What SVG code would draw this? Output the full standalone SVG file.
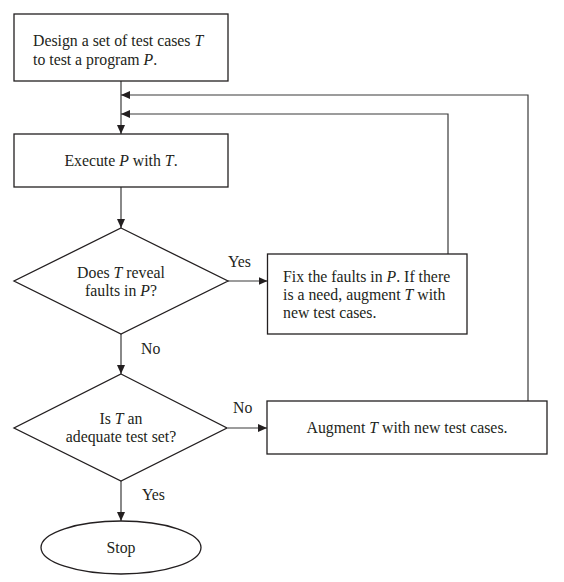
<svg xmlns="http://www.w3.org/2000/svg" width="564" height="582" viewBox="0 0 564 582">
<style>
.shape{fill:#fff;stroke:#231f20;stroke-width:1.3}
.conn{fill:none;stroke:#3a3a3a;stroke-width:1.2}
text{font-family:"Liberation Serif","Times New Roman",serif;font-size:15.8px;fill:#231f20}
.c{text-anchor:middle}
.i{font-style:italic}
</style>
<defs>
<marker id="ah" viewBox="0 0 9 8" refX="9" refY="4" markerWidth="9" markerHeight="8" markerUnits="userSpaceOnUse" orient="auto">
<path d="M0,0 L9,4 L0,8 z" fill="#231f20"/>
</marker>
</defs>
<rect width="564" height="582" fill="#fff"/>
<g id="connectors">
<path class="conn" d="M121,81 V134" marker-end="url(#ah)"/>
<path class="conn" d="M448,254 V114 H121" marker-end="url(#ah)"/>
<path class="conn" d="M528,401 V95 H121" marker-end="url(#ah)"/>
<path class="conn" d="M121,187 V228" marker-end="url(#ah)"/>
<path class="conn" d="M228,281 H267.5" marker-end="url(#ah)"/>
<path class="conn" d="M121,334 V374" marker-end="url(#ah)"/>
<path class="conn" d="M228,428 H267" marker-end="url(#ah)"/>
<path class="conn" d="M121,481 V521" marker-end="url(#ah)"/>
<text x="228" y="267">Yes</text>
<text x="141" y="354">No</text>
<text x="233" y="413">No</text>
<text x="142" y="500">Yes</text>
</g>
<g id="design">
<rect class="shape" x="14" y="14" width="214" height="67"/>
<text x="33" y="46">Design a set of test cases <tspan class="i">T</tspan></text>
<text x="33" y="65">to test a program <tspan class="i">P</tspan>.</text>
</g>
<g id="execute">
<rect class="shape" x="14" y="134" width="214" height="53"/>
<text class="c" x="121" y="166">Execute <tspan class="i">P</tspan> with <tspan class="i">T</tspan>.</text>
</g>
<g id="reveal">
<polygon class="shape" points="121,228 228,281 121,334 14,281"/>
<text class="c" x="121" y="278">Does <tspan class="i">T</tspan> reveal</text>
<text class="c" x="121" y="296">faults in <tspan class="i">P</tspan>?</text>
</g>
<g id="fix">
<rect class="shape" x="267.5" y="254" width="199.5" height="80"/>
<text x="283" y="282">Fix the faults in <tspan class="i">P</tspan>. If there</text>
<text x="283" y="300">is a need, augment <tspan class="i">T</tspan> with</text>
<text x="283" y="318">new test cases.</text>
</g>
<g id="adequate">
<polygon class="shape" points="121,374 227,428 121,481 14,428"/>
<text class="c" x="121" y="424">Is <tspan class="i">T</tspan> an</text>
<text class="c" x="121" y="442">adequate test set?</text>
</g>
<g id="augment">
<rect class="shape" x="267" y="401" width="280" height="53"/>
<text class="c" x="407" y="433">Augment <tspan class="i">T</tspan> with new test cases.</text>
</g>
<g id="stop">
<ellipse class="shape" cx="121" cy="547.5" rx="80" ry="26.5"/>
<text class="c" x="121" y="553">Stop</text>
</g>
</svg>
